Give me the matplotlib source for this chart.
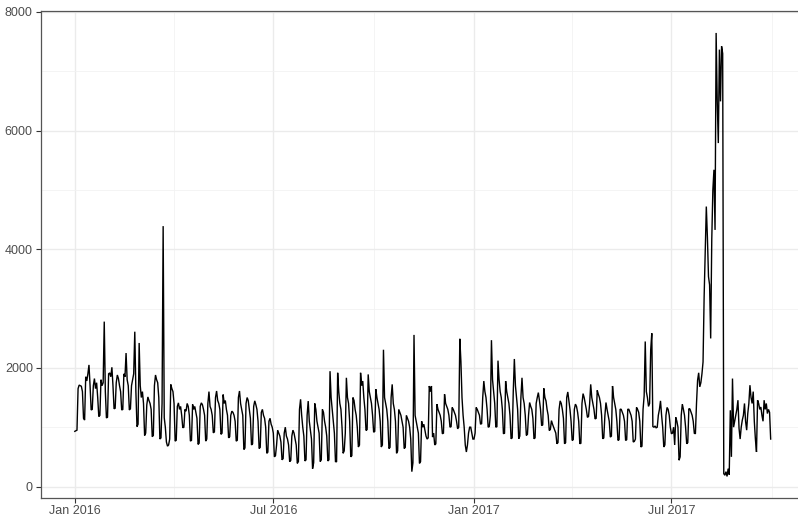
import matplotlib
matplotlib.use("Agg")
import matplotlib.pyplot as plt
import matplotlib.dates as mdates
import pandas as pd
import numpy as np

start_date = "2016-01-01"

# Daily values, grouped by week (Mon..Sun); first row is Fri 1 Jan - Sun 3 Jan 2016
weekly_rows = [
    [930, 940, 950],
    [1650, 1710, 1700, 1690, 1600, 1150, 1120],
    [1850, 1780, 1900, 2050, 1700, 1290, 1300],
    [1700, 1820, 1650, 1750, 1500, 1180, 1200],
    [1800, 1700, 1750, 2780, 1600, 1155, 1170],
    [1900, 1915, 1850, 2010, 1700, 1310, 1320],
    [1750, 1880, 1820, 1700, 1600, 1290, 1300],
    [1900, 1850, 2250, 1800, 1700, 1290, 1310],
    [1700, 1800, 1900, 2610, 1600, 1010, 1050],
    [2420, 1700, 1500, 1600, 1400, 860, 900],
    [1375, 1510, 1450, 1400, 1300, 840, 860],
    [1700, 1880, 1800, 1750, 1500, 800, 820],
    [1400, 4390, 1160, 1000, 750, 680, 700],
    [800, 1720, 1650, 1600, 1400, 765, 780],
    [1350, 1410, 1300, 1350, 1200, 990, 1000],
    [1300, 1270, 1400, 1350, 1200, 765, 780],
    [1384, 1300, 1350, 1250, 1150, 710, 730],
    [1350, 1410, 1380, 1300, 1200, 765, 800],
    [1400, 1600, 1350, 1300, 1200, 905, 920],
    [1500, 1610, 1450, 1400, 1300, 880, 900],
    [1550, 1400, 1450, 1300, 1200, 820, 840],
    [1200, 1270, 1250, 1200, 1100, 765, 780],
    [1500, 1610, 1400, 1300, 1200, 624, 650],
    [1400, 1500, 1450, 1300, 1150, 700, 720],
    [1350, 1444, 1380, 1300, 1100, 640, 660],
    [1250, 1300, 1200, 1150, 1000, 560, 580],
    [1100, 1150, 1050, 1000, 900, 500, 520],
    [700, 950, 900, 850, 750, 450, 470],
    [900, 1000, 850, 800, 700, 420, 440],
    [850, 950, 900, 800, 700, 390, 420],
    [1300, 1470, 1200, 1000, 850, 430, 450],
    [1200, 1440, 1100, 950, 800, 300, 400],
    [1400, 1300, 1100, 1000, 900, 420, 450],
    [1300, 1250, 1100, 1000, 850, 430, 450],
    [1944, 1500, 1300, 1100, 900, 420, 415],
    [1917, 1600, 1400, 1300, 1000, 560, 600],
    [900, 1833, 1500, 1400, 1100, 500, 520],
    [1500, 1450, 1300, 1200, 1000, 666, 700],
    [1917, 1700, 1778, 1500, 1300, 945, 960],
    [1890, 1600, 1500, 1400, 1200, 915, 930],
    [1640, 1500, 1400, 1300, 1100, 666, 700],
    [2306, 1500, 1400, 1300, 1100, 640, 660],
    [1500, 1722, 1400, 1300, 1100, 560, 600],
    [1300, 1250, 1200, 1100, 1000, 640, 660],
    [1200, 1150, 1100, 1000, 800, 250, 400],
    [2556, 1200, 1100, 1000, 900, 390, 420],
    [1100, 1000, 1050, 950, 850, 800, 820],
    [1694, 1600, 1694, 833, 900, 700, 720],
    [1389, 1300, 1250, 1200, 1100, 889, 900],
    [1555, 1400, 1350, 1300, 1200, 1000, 1010],
    [1333, 1300, 1250, 1200, 1100, 972, 1000],
    [2490, 2111, 1500, 1200, 1000, 700, 582],
    [700, 900, 1000, 1000, 900, 800, 800],
    [900, 1333, 1300, 1250, 1200, 1050, 1060],
    [1500, 1778, 1600, 1500, 1300, 1000, 1010],
    [1200, 2467, 1800, 1600, 1400, 1000, 1010],
    [2122, 1800, 1600, 1500, 1300, 889, 900],
    [1778, 1600, 1500, 1400, 1200, 805, 820],
    [1600, 2150, 1700, 1500, 1300, 805, 850],
    [1500, 1833, 1500, 1400, 1200, 861, 880],
    [1200, 1416, 1350, 1300, 1150, 805, 820],
    [1400, 1500, 1583, 1450, 1300, 1028, 1040],
    [1655, 1500, 1444, 1300, 1200, 944, 960],
    [1111, 1050, 1000, 950, 900, 721, 740],
    [1300, 1444, 1400, 1300, 1150, 721, 740],
    [1500, 1594, 1450, 1300, 1100, 777, 790],
    [1300, 1389, 1350, 1250, 1100, 721, 730],
    [1400, 1566, 1500, 1400, 1300, 1166, 1180],
    [1389, 1722, 1500, 1400, 1300, 1139, 1150],
    [1622, 1555, 1500, 1400, 1200, 805, 820],
    [1194, 1416, 1300, 1200, 1100, 833, 850],
    [1694, 1500, 1400, 1300, 1100, 777, 790],
    [1305, 1300, 1250, 1200, 1100, 777, 790],
    [1305, 1300, 1250, 1200, 1100, 750, 760],
    [800, 1333, 1300, 1250, 1100, 666, 680],
    [1300, 1527, 2445, 1600, 1500, 1350, 1400],
    [2300, 2584, 1011, 1000, 1020, 990, 1000],
    [1200, 1300, 1444, 1200, 1000, 666, 700],
    [1200, 1333, 1300, 1200, 1000, 889, 900],
    [1000, 700, 1166, 1100, 1000, 443, 500],
    [1200, 1389, 1300, 1200, 1000, 721, 740],
    [1313, 1305, 1250, 1200, 1100, 898, 889],
    [1398, 1792, 1917, 1680, 1750, 1900, 2100],
    [3200, 3932, 4720, 4200, 3538, 3400, 2496],
    [4166, 5001, 5340, 4326, 7647, 6500, 5790],
    [7366, 6493, 7422, 7300, 216, 190, 250],
    [170, 300, 200, 1285, 500, 1820, 1000],
    [1100, 1200, 1300, 1455, 980, 800, 1000],
    [1120, 1200, 1400, 1100, 950, 1230, 1400],
    [1708, 1500, 1400, 1600, 1100, 800, 582],
    [1455, 1400, 1300, 1340, 1200, 1100, 1455],
    [1300, 1400, 1230, 1300, 1250, 800],
]

values = [v for row in weekly_rows for v in row]
dates = pd.date_range(start_date, periods=len(values), freq="D")

y_ticks = [0, 2000, 4000, 6000, 8000]
y_minor = [1000, 3000, 5000, 7000]
x_ticks = ["2016-01-01", "2016-07-01", "2017-01-01", "2017-07-01"]
x_minor = ["2016-04-01", "2016-10-01", "2017-04-01", "2017-10-01"]

W, H = 798, 517
fig = plt.figure(figsize=(W / 100, H / 100), dpi=100)
left_px, right_px, top_px, bottom_px = 40.5, 812, 11, 497.5
ax = fig.add_axes([left_px / W, 1 - bottom_px / H,
                   (right_px - left_px) / W, (bottom_px - top_px) / H])

ax.plot(dates, values, color="black", linewidth=1.0, solid_joinstyle="miter")

x0 = pd.Timestamp(start_date)
px_per_day = 1.0907
xl = x0 - pd.Timedelta(days=(74.8 - left_px) / px_per_day)
xr = x0 + pd.Timedelta(days=(right_px - 74.8) / px_per_day)
ax.set_xlim(xl, xr)
px_per_unit = (486.5 - 12) / 8000
ax.set_ylim(-(bottom_px - 486.5) / px_per_unit, 8000 + (12 - top_px) / px_per_unit)

ax.set_yticks(y_ticks)
ax.set_yticks(y_minor, minor=True)
ax.set_xticks(pd.to_datetime(x_ticks))
ax.set_xticks(pd.to_datetime(x_minor), minor=True)
ax.xaxis.set_major_formatter(mdates.DateFormatter("%b %Y"))

ax.grid(which="major", color="#EBEBEB", linewidth=1.0)
ax.grid(which="minor", color="#F2F2F2", linewidth=0.6)
ax.set_axisbelow(True)

for s in ax.spines.values():
    s.set_color("#555555")
    s.set_linewidth(0.9)

ax.tick_params(which="major", length=3.5, width=0.8, color="#333333",
               labelsize=9, labelcolor="#4D4D4D", pad=2)
ax.tick_params(which="minor", length=0)
for lab in ax.get_xticklabels() + ax.get_yticklabels():
    lab.set_fontfamily(["Liberation Sans", "DejaVu Sans"])

fig.savefig("out.png", dpi=100, facecolor="white")
